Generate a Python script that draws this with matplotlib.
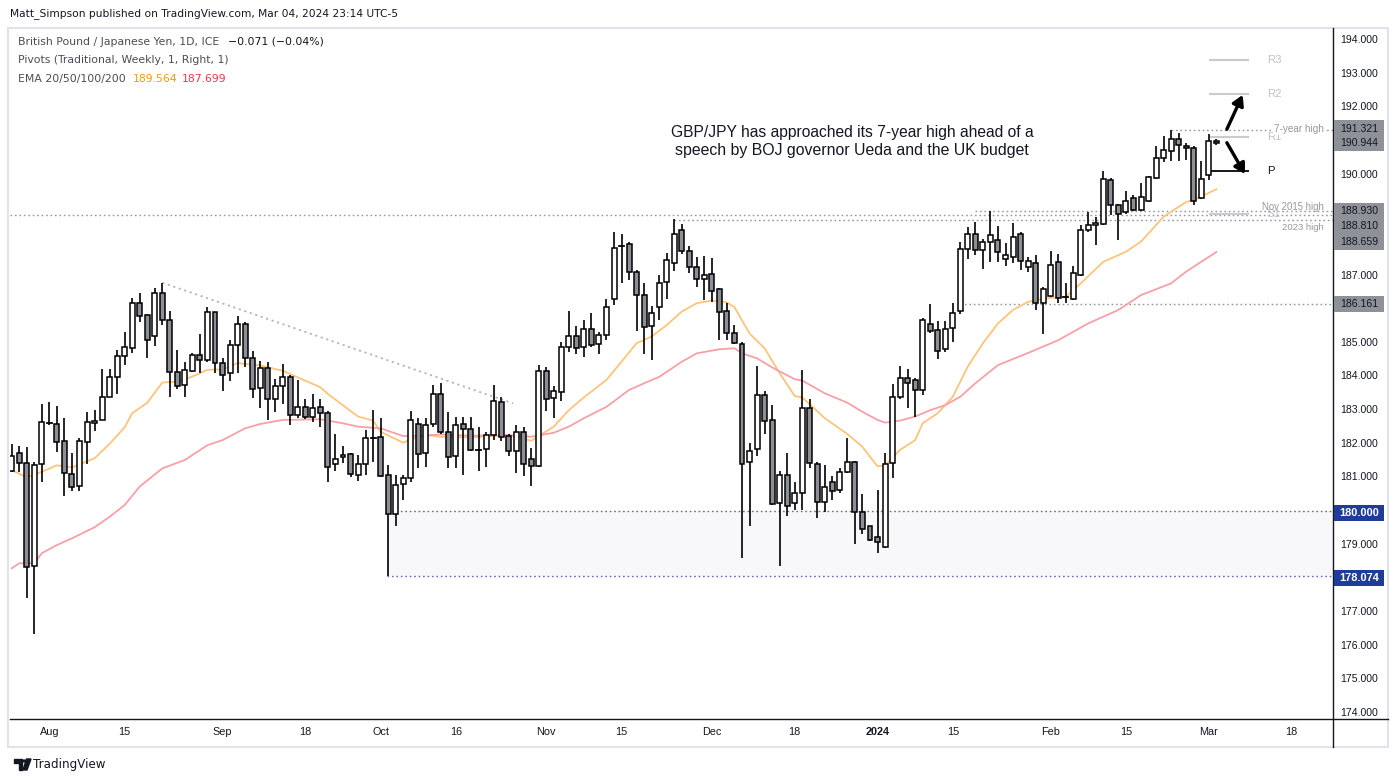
import matplotlib
matplotlib.use('Agg')
import matplotlib.pyplot as plt
from matplotlib.patches import Rectangle, FancyArrowPatch, Polygon, Circle
from matplotlib.lines import Line2D

# ---------------- data (GBP/JPY daily, 25 Jul 2023 -> 4 Mar 2024) ----------------
opens = [181.2, 181.72, 181.42, 178.36, 181.39, 182.62, 182.58, 182.07, 181.09, 180.76,
         182.06, 182.61, 182.7, 183.38, 184.0, 184.6, 184.84, 186.2, 185.82, 185.19,
         186.47, 185.67, 184.13, 183.74, 184.15, 184.63, 184.48, 185.91, 184.39, 184.1,
         184.93, 185.55, 184.54, 183.65, 184.24, 183.32, 183.71, 184.0, 182.87, 183.08,
         182.79, 183.08, 182.91, 181.39, 181.6, 181.69, 181.06, 181.39, 182.15, 182.19,
         181.06, 179.9, 180.82, 180.97, 182.58, 181.72, 182.58, 183.47, 182.34, 181.63,
         182.58, 182.43, 181.8, 181.84, 182.25, 183.23, 182.22, 181.78, 182.34, 181.54,
         181.33, 184.15, 183.35, 183.53, 184.87, 185.19, 184.87, 185.4, 184.96, 185.22,
         186.3, 187.88, 187.93, 187.1, 186.41, 185.49, 186.06, 186.8, 187.37, 188.37,
         187.72, 187.25, 186.89, 187.04, 186.59, 185.94, 185.28, 184.96, 181.45, 181.84,
         183.44, 182.7, 180.23, 181.06, 180.23, 180.53, 183.06, 181.39, 180.26, 180.86,
         180.62, 181.15, 181.45, 179.96, 179.55, 179.22, 178.93, 181.42, 183.38, 183.95,
         183.89, 183.59, 185.55, 185.37, 184.81, 185.44, 185.94, 187.8, 188.25, 187.75,
         187.99, 188.06, 187.48, 187.54, 188.23, 187.27, 187.36, 186.2, 186.38, 187.39,
         186.34, 186.3, 187.01, 188.37, 188.49, 188.52, 189.83, 189.09, 188.88, 189.3,
         188.94, 189.21, 189.89, 190.51, 190.69, 191.05, 190.84, 190.78, 189.3, 189.98,
         191.0]
highs = [181.99, 181.93, 181.9, 181.47, 183.18, 183.24, 183.12, 182.77, 181.73, 182.17,
         182.95, 183.0, 184.23, 184.22, 184.79, 185.32, 186.32, 186.47, 185.85, 186.63,
         186.79, 185.94, 184.79, 184.42, 184.69, 185.26, 186.06, 185.93, 184.54, 185.08,
         185.79, 185.61, 184.76, 184.46, 184.43, 183.92, 184.36, 184.06, 183.89, 183.33,
         183.48, 183.33, 182.97, 182.29, 181.93, 181.72, 181.66, 182.41, 183.0, 182.78,
         181.36, 181.06, 181.06, 182.97, 182.76, 182.76, 183.74, 183.8, 182.94, 182.79,
         182.79, 182.79, 182.49, 182.34, 183.74, 183.38, 182.28, 182.55, 182.49, 181.87,
         184.33, 184.27, 183.71, 185.02, 185.94, 185.49, 185.67, 185.88, 185.31, 186.3,
         188.29, 188.23, 187.99, 187.16, 186.77, 186.09, 187.01, 187.66, 188.67, 188.52,
         187.87, 187.54, 187.57, 187.51, 186.62, 186.18, 185.52, 185.02, 182.02, 184.31,
         183.56, 183.15, 181.18, 181.72, 180.86, 184.18, 183.32, 181.45, 181.36, 181.03,
         181.27, 182.16, 181.48, 180.5, 179.57, 180.62, 181.72, 183.77, 184.3, 184.21,
         183.95, 185.73, 186.15, 185.64, 185.64, 186.18, 188.0, 188.45, 188.6, 188.1,
         188.93, 188.47, 187.96, 188.55, 188.29, 187.54, 187.6, 186.65, 187.72, 187.63,
         186.77, 187.3, 188.49, 188.88, 188.73, 190.1, 189.89, 189.12, 189.5, 189.39,
         189.74, 189.95, 190.84, 191.14, 191.321, 191.23, 190.93, 190.84, 190.4, 191.2,
         191.05]
lows = [181.15, 181.17, 177.41, 176.34, 180.87, 182.55, 181.77, 180.46, 180.59, 180.59,
        181.39, 182.38, 182.7, 183.38, 183.49, 184.35, 184.71, 185.61, 184.56, 184.92,
        185.54, 183.4, 183.62, 183.38, 184.12, 184.1, 184.42, 184.1, 183.56, 183.86,
        184.1, 184.27, 183.37, 183.07, 182.7, 182.95, 183.19, 182.55, 182.76, 182.73,
        182.66, 182.49, 180.86, 181.2, 181.42, 181.0, 180.9, 181.06, 181.45, 181.0,
        178.074, 179.57, 180.32, 180.86, 181.27, 181.3, 182.49, 182.3, 181.27, 181.27,
        181.06, 181.8, 181.18, 181.3, 182.1, 182.07, 181.65, 181.14, 181.05, 180.76,
        181.3, 182.97, 182.76, 183.26, 184.72, 184.66, 184.57, 184.87, 184.66, 185.08,
        186.12, 186.77, 186.86, 185.34, 184.66, 184.48, 185.67, 186.3, 187.13, 187.63,
        187.07, 186.65, 186.26, 186.23, 185.1, 185.08, 184.97, 178.6, 179.55, 181.63,
        182.28, 180.18, 178.36, 179.85, 180.02, 180.02, 181.27, 179.79, 179.96, 180.32,
        180.53, 181.12, 179.01, 179.31, 179.1, 178.75, 178.9, 180.98, 183.32, 183.06,
        182.79, 183.44, 185.28, 184.51, 184.72, 185.02, 185.85, 187.5, 187.6, 187.2,
        187.41, 187.39, 187.29, 187.36, 187.16, 187.1, 185.99, 185.25, 186.35, 186.2,
        186.2, 186.28, 186.98, 188.29, 187.9, 188.49, 188.79, 188.05, 188.82, 188.92,
        188.92, 189.2, 189.87, 190.37, 190.4, 190.4, 190.45, 189.09, 189.27, 189.83,
        190.87]
closes = [181.65, 181.42, 178.33, 181.36, 182.64, 182.6, 182.06, 181.12, 180.73, 182.07,
          182.64, 182.68, 183.38, 184.0, 184.6, 184.87, 186.2, 185.79, 185.1, 186.47,
          185.67, 184.13, 183.71, 184.18, 184.63, 184.48, 185.91, 184.39, 184.06, 184.93,
          185.55, 184.54, 183.62, 184.24, 183.32, 183.71, 184.0, 182.87, 183.08, 182.79,
          183.05, 182.91, 181.3, 181.54, 181.66, 181.09, 181.39, 182.16, 182.17, 181.03,
          179.9, 180.79, 180.97, 182.7, 181.69, 182.55, 183.47, 182.34, 181.6, 182.55,
          182.43, 181.81, 181.82, 182.25, 183.26, 182.19, 181.78, 182.34, 181.39, 181.33,
          184.15, 183.32, 183.56, 184.87, 185.19, 184.84, 185.4, 184.93, 185.22, 186.06,
          187.81, 187.9, 187.1, 186.41, 185.46, 185.88, 186.77, 187.45, 188.23, 187.72,
          187.25, 186.89, 187.01, 186.53, 185.91, 185.28, 184.99, 181.39, 181.78, 183.44,
          182.67, 180.2, 181.06, 180.14, 180.53, 183.06, 181.42, 180.26, 180.73, 180.59,
          181.15, 181.45, 179.96, 179.46, 179.13, 179.07, 181.39, 183.38, 183.95, 183.8,
          183.59, 185.67, 185.34, 184.75, 185.4, 185.88, 187.8, 188.25, 187.75, 187.99,
          188.2, 187.69, 187.61, 188.14, 187.42, 187.42, 186.2, 186.59, 187.33, 186.32,
          186.36, 187.07, 188.37, 188.49, 188.55, 189.86, 189.09, 188.82, 189.21, 188.94,
          189.33, 189.92, 190.51, 190.72, 191.05, 190.87, 190.78, 189.21, 189.86, 191.015,
          190.944]

ema20_idx = [0, 2, 4, 6, 8, 11, 13, 15, 16, 18, 20, 22, 24, 26, 28, 30, 33, 36, 41, 42,
             46, 48, 49, 52, 53, 55, 57, 61, 66, 69, 72, 74, 76, 79, 81, 83, 85, 87, 89,
             91, 93, 95, 96, 98, 100, 102, 104, 105, 108, 111, 113, 115, 116, 118, 120,
             121, 123, 125, 127, 129, 131, 133, 135, 137, 140, 142, 145, 148, 150, 153,
             156, 157, 160]
ema20_val = [181.22, 181.0, 181.17, 181.36, 181.3, 181.57, 182.0, 182.49, 182.91, 183.22,
             183.82, 183.85, 184.0, 184.2, 184.21, 184.4, 184.33, 184.17, 183.68, 183.48,
             182.81, 182.69, 182.36, 182.03, 182.13, 182.26, 182.21, 182.19, 182.26, 182.09,
             182.51, 183.0, 183.38, 183.9, 184.44, 184.99, 185.19, 185.53, 185.93, 186.18,
             186.26, 186.2, 186.06, 185.28, 184.84, 184.1, 183.42, 183.38, 182.76, 182.29,
             181.91, 181.33, 181.36, 181.82, 182.11, 182.61, 182.91, 183.4, 184.3, 184.99,
             185.58, 185.98, 186.22, 186.32, 186.37, 186.77, 187.41, 187.71, 188.01, 188.75,
             189.19, 189.25, 189.564]
ema50_idx = [0, 1, 3, 4, 6, 8, 11, 13, 15, 17, 20, 23, 26, 28, 31, 33, 36, 41, 44, 46,
             49, 52, 54, 57, 61, 66, 69, 72, 74, 76, 79, 82, 84, 86, 89, 91, 94, 96, 97,
             99, 101, 104, 105, 108, 111, 113, 115, 116, 118, 120, 122, 124, 126, 128,
             131, 135, 139, 143, 147, 150, 154, 156, 158, 160]
ema50_val = [178.3, 178.45, 178.45, 178.75, 178.99, 179.19, 179.52, 179.83, 180.18, 180.73,
             181.27, 181.52, 181.96, 182.11, 182.46, 182.59, 182.71, 182.73, 182.61, 182.51,
             182.46, 182.23, 182.23, 182.28, 182.24, 182.26, 182.21, 182.33, 182.51, 182.76,
             183.1, 183.6, 183.8, 183.99, 184.44, 184.69, 184.81, 184.84, 184.69, 184.54,
             184.27, 183.92, 183.88, 183.5, 183.22, 182.95, 182.71, 182.63, 182.69, 182.81,
             183.0, 183.15, 183.4, 183.8, 184.34, 184.7, 185.08, 185.58, 185.98, 186.42,
             186.77, 187.12, 187.41, 187.699]

tick_idx = [5, 15, 28, 39, 49, 59, 71, 81, 93, 104, 115, 125, 138, 148, 159, 170]
tick_labels = ['Aug', '15', 'Sep', '18', 'Oct', '16', 'Nov', '15', 'Dec', '18', '2024',
               '15', 'Feb', '15', 'Mar', '18']

price_ticks = [194, 193, 192, 190, 187, 185, 184, 183, 182, 181, 179, 177, 176, 175, 174]

pivot_names = ['R3', 'R2', 'R1', 'P', 'S1']
pivot_values = [193.40, 192.39, 191.13, 190.10, 188.84]

seven_year_high = 191.321
nov2015_high = 188.930
long_level = 188.810
high_2023 = 188.659
level_186 = 186.161
zone_top = 180.000
zone_bottom = 178.074
trend_start = (20, 186.79)
trend_end = (66.6, 183.20)
last_price = 190.944

# ---------------- figure ----------------
W, H = 1396, 782
fig = plt.figure(figsize=(W / 100, H / 100), dpi=100)
fig.patch.set_facecolor('white')


def fx(px):
    return px / W


def fy(py):
    return 1 - py / H


X_LEFT, X_RIGHT = 10, 1333
Y_TOP, Y_BOT = 28, 719
ax = fig.add_axes([fx(X_LEFT), fy(Y_BOT), fx(X_RIGHT) - fx(X_LEFT), fy(Y_TOP) - fy(Y_BOT)])
XMIN, XMAX = -0.23, 175.5
YMIN, YMAX = 173.82, 194.36
ax.set_xlim(XMIN, XMAX)
ax.set_ylim(YMIN, YMAX)
for s in ax.spines.values():
    s.set_visible(False)
ax.set_yticks([])
ax.set_xticks(tick_idx)
ax.set_xticklabels(tick_labels)
ax.tick_params(axis='x', length=0, pad=6, labelsize=7.8, colors='#131722')
for lbl in ax.get_xticklabels():
    lbl.set_family('Liberation Sans')
    if lbl.get_text() == '2024':
        lbl.set_fontweight('bold')

# frame around pane
fig.patches.append(Rectangle((fx(8), fy(747)), fx(1388) - fx(8), fy(28) - fy(747),
                             transform=fig.transFigure, fill=False,
                             edgecolor='#e0e3eb', lw=1.5, zorder=0))
fig.lines.append(Line2D([fx(X_LEFT), fx(1388)], [fy(Y_BOT), fy(Y_BOT)],
                        transform=fig.transFigure, color='#131722', lw=1.0))
fig.lines.append(Line2D([fx(X_RIGHT), fx(X_RIGHT)], [fy(28), fy(747)],
                        transform=fig.transFigure, color='#131722', lw=1.0))

# support zone
ax.add_patch(Rectangle((49.9, zone_bottom), XMAX - 49.9, zone_top - zone_bottom,
                       facecolor='#f8f8fa', edgecolor='none', zorder=1))
dot = (0, (1.2, 2.0))
for yv in (zone_top, zone_bottom):
    ax.plot([49.9, XMAX], [yv, yv], color='#5c6bc0', lw=1.0, ls=dot, zorder=2)

# level lines
lvl_col = '#9598a1'
ax.plot([XMIN, XMAX], [long_level, long_level], color=lvl_col, lw=1.0, ls=dot, zorder=2)
ax.plot([128, XMAX], [nov2015_high, nov2015_high], color=lvl_col, lw=1.0, ls=dot, zorder=2)
ax.plot([88, XMAX], [high_2023, high_2023], color=lvl_col, lw=1.0, ls=dot, zorder=2)
ax.plot([154, XMAX], [seven_year_high, seven_year_high], color=lvl_col, lw=1.0, ls=dot, zorder=2)
ax.plot([126, XMAX], [level_186, level_186], color=lvl_col, lw=1.0, ls=dot, zorder=2)
ax.plot([trend_start[0], trend_end[0]], [trend_start[1], trend_end[1]],
        color='#b2b5be', lw=1.3, ls=dot, zorder=2)

# EMAs
ax.plot(ema20_idx, ema20_val, color='#ffc47a', lw=1.3, zorder=3)
ax.plot(ema50_idx, ema50_val, color='#f7a0a7', lw=1.3, zorder=3)

# candles
down_col = '#8c8f97'
bw = 0.66
for i, (o, h, l, c) in enumerate(zip(opens, highs, lows, closes)):
    ax.vlines(i, l, h, color='black', lw=1.2, zorder=4)
    lo_b = min(o, c)
    hb = abs(c - o)
    if hb < 0.04:
        ax.plot([i - bw / 2, i + bw / 2], [(o + c) / 2] * 2, color='black', lw=1.3, zorder=5)
    else:
        ax.add_patch(Rectangle((i - bw / 2, lo_b), bw, hb,
                               facecolor='white' if c >= o else down_col,
                               edgecolor='black', lw=1.1, zorder=5))

# pivots
for name, val in zip(pivot_names, pivot_values):
    col = '#131722' if name == 'P' else '#c9cbd1'
    ax.plot([159.1, 164.2], [val, val], color=col, lw=1.4 if name == 'P' else 1.5, zorder=3)
    ax.text(166.7, val, name, color='#131722' if name == 'P' else '#c0c2c8',
            fontsize=8.2, family='Liberation Sans', va='center', ha='left', zorder=6)

# arrows
for (x0, y0, x1, y1) in [(161.4, 191.35, 163.5, 192.37), (161.4, 190.95, 163.8, 190.02)]:
    ax.add_patch(FancyArrowPatch((x0, y0), (x1, y1), arrowstyle='-|>,head_length=6,head_width=3.5',
                                 color='black', lw=2.4, zorder=7, shrinkA=0, shrinkB=0))

renderer = fig.canvas.get_renderer()


def put(text, x0, yc, width=None, size=9.0, color='#131722', family='DejaVu Sans',
        weight='normal', ha='left', bg=None):
    t = fig.text(fx(x0), fy(yc), text, fontsize=size, color=color, family=family,
                 weight=weight, ha=ha, va='center', zorder=10)
    if width:
        w = t.get_window_extent(renderer).width
        t.set_fontsize(size * width / w)
    if bg:
        t.set_bbox(dict(facecolor=bg, edgecolor='none', pad=0.5))
    return t


# level texts
put('7-year high', 1324, 129, width=50, color=lvl_col, family='Liberation Sans', ha='right', bg='white')
put('Nov 2015 high', 1324, 206.5, width=62, color=lvl_col, family='Liberation Sans', ha='right')
put('2023 high', 1324, 228, width=42, color=lvl_col, family='Liberation Sans', ha='right')

# header & legend
put('Matt_Simpson published on TradingView.com, Mar 04, 2024 23:14 UTC-5', 10, 14,
    width=385, color='#131722')
t1 = put('British Pound / Japanese Yen, 1D, ICE', 18, 42, width=202, color='#4a4d57')
fs = t1.get_fontsize()
put('\u22120.071 (\u22120.04%)', 228, 42, size=fs, color='#131722')
put('Pivots (Traditional, Weekly, 1, Right, 1)', 18, 60, size=fs, color='#4a4d57')
put('EMA 20/50/100/200', 18, 79, size=fs, color='#4a4d57')
put('189.564', 133, 79, size=fs, color='#ff9800')
put('187.699', 182, 79, size=fs, color='#f23645')

# annotation
put('GBP/JPY has approached its 7-year high ahead of a', 852, 132, width=365,
    family='Liberation Sans', ha='center', color='#131722')
put('speech by BOJ governor Ueda and the UK budget', 852, 151, width=356,
    family='Liberation Sans', ha='center', color='#131722')


# right price axis
def price_y(v):
    return 40 + (194 - v) * 33.65


for v in price_ticks:
    put(f'{v:.3f}', 1340, price_y(v), width=38, family='Liberation Sans', color='#131722')

box_gray = '#8f9199'


def box(y0, y1, color):
    fig.patches.append(Rectangle((fx(1334), fy(y1)), fx(1384) - fx(1334), fy(y0) - fy(y1),
                                 transform=fig.transFigure, facecolor=color,
                                 edgecolor='none', zorder=5))


box(120, 151, box_gray)
put(f'{seven_year_high:.3f}', 1340, 129, width=38, family='Liberation Sans')
put(f'{last_price:.3f}', 1340, 143, width=38, family='Liberation Sans')
box(203, 250, box_gray)
put(f'{nov2015_high:.3f}', 1340, 211, width=38, family='Liberation Sans')
put(f'{long_level:.3f}', 1340, 226, width=38, family='Liberation Sans')
put(f'{high_2023:.3f}', 1340, 242, width=38, family='Liberation Sans')
box(296, 312, box_gray)
put(f'{level_186:.3f}', 1340, 304, width=38, family='Liberation Sans')
box(505, 521, '#1f3c99')
put(f'{zone_top:.3f}', 1339, 513, width=40, family='Liberation Sans', color='white', weight='bold')
box(570, 586, '#1f3c99')
put(f'{zone_bottom:.3f}', 1339, 578, width=40, family='Liberation Sans', color='white', weight='bold')

# footer logo
fig.patches.append(Polygon([(fx(14), fy(759)), (fx(22), fy(759)), (fx(22), fy(770)),
                            (fx(18.5), fy(770)), (fx(18.5), fy(762.5)), (fx(14), fy(762.5))],
                           closed=True, transform=fig.transFigure, color='#131722'))
fig.patches.append(Circle((fx(24.3), fy(761)), 1.6 / W, transform=fig.transFigure, color='#131722'))
fig.patches.append(Polygon([(fx(26.5), fy(759)), (fx(31), fy(759)), (fx(27), fy(770)),
                            (fx(23), fy(770))], closed=True, transform=fig.transFigure,
                           color='#131722'))
put('TradingView', 33, 764.5, width=72, color='#131722')

fig.savefig('out.png', dpi=100, facecolor='white')
